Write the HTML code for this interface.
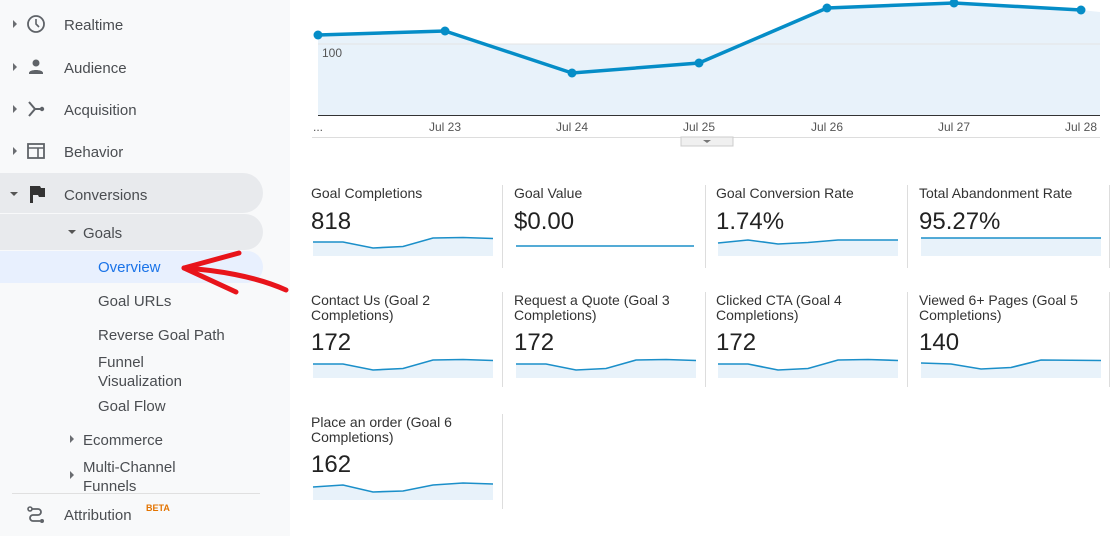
<!DOCTYPE html>
<html><head><meta charset="utf-8"><style>
body{margin:0;width:1116px;height:536px;overflow:hidden;background:#fff;font-family:"Liberation Sans",sans-serif;position:relative}
.a{position:absolute;white-space:nowrap}
#side{position:absolute;left:0;top:0;width:290px;height:536px;background:#f8f9fa}
.nav{font-size:15px;color:#4a4d51}
.car{position:absolute;width:0;height:0;border-top:4px solid transparent;border-bottom:4px solid transparent;border-left:4px solid #6a6d71}
.cdn{position:absolute;width:0;height:0;border-left:4px solid transparent;border-right:4px solid transparent;border-top:4px solid #555}
.t{font-size:14px;color:#333;line-height:15px}
.v{font-size:24px;color:#222}
.sep{position:absolute;width:1px;background:#ddd}
</style></head><body>
<div id="side"></div>
<div class="a" style="left:0;top:173px;width:263px;height:40px;background:#e8eaed;border-radius:0 20px 20px 0"></div>
<div class="a" style="left:0;top:214px;width:263px;height:36px;background:#e8eaed;border-radius:0 18px 18px 0"></div>
<div class="a" style="left:0;top:251px;width:263px;height:32px;background:#e8f0fe;border-radius:0 16px 16px 0"></div>

<div class="car" style="left:13px;top:20px"></div>
<svg class="a" style="left:26px;top:14px" width="20" height="20"><circle cx="10" cy="10" r="8" fill="none" stroke="#5f6368" stroke-width="1.8"/><path d="M10 5v5l3 3" fill="none" stroke="#5f6368" stroke-width="1.6"/></svg>
<div class="a nav" style="left:64px;top:17px">Realtime</div>
<div class="car" style="left:13px;top:63px"></div>
<svg class="a" style="left:26px;top:57px" width="20" height="20"><circle cx="10" cy="6" r="3.5" fill="#5f6368"/><path d="M3 16c0-4 14-4 14 0v1H3z" fill="#5f6368"/></svg>
<div class="a nav" style="left:64px;top:60px">Audience</div>
<div class="car" style="left:13px;top:105px"></div>
<svg class="a" style="left:26px;top:99px" width="20" height="20"><path d="M3 3l6 7-6 7M9 10h6" fill="none" stroke="#5f6368" stroke-width="2"/><circle cx="16" cy="10" r="2.2" fill="#5f6368"/></svg>
<div class="a nav" style="left:64px;top:102px">Acquisition</div>
<div class="car" style="left:13px;top:147px"></div>
<svg class="a" style="left:26px;top:141px" width="20" height="20"><rect x="2" y="3" width="16" height="14" fill="none" stroke="#5f6368" stroke-width="1.8"/><path d="M2 7h16M12 7v10" stroke="#5f6368" stroke-width="1.6"/></svg>
<div class="a nav" style="left:64px;top:144px">Behavior</div>
<div class="cdn" style="left:10px;top:192px"></div>
<svg class="a" style="left:28px;top:184px" width="18" height="20"><path d="M2 2h10l1 2h4v9h-6l-1-2H5v8H2z" fill="#333"/></svg>
<div class="a nav" style="left:64px;top:187px">Conversions</div>
<div class="cdn" style="left:68px;top:230px"></div>
<div class="a nav" style="left:83px;top:225px">Goals</div>
<div class="a nav" style="left:98px;top:259px;color:#1a73e8">Overview</div>
<div class="a nav" style="left:98px;top:293px">Goal URLs</div>
<div class="a nav" style="left:98px;top:327px">Reverse Goal Path</div>
<div class="a nav" style="left:98px;top:353px;line-height:19px">Funnel<br>Visualization</div>
<div class="a nav" style="left:98px;top:398px">Goal Flow</div>
<div class="car" style="left:70px;top:435px"></div>
<div class="a nav" style="left:83px;top:432px">Ecommerce</div>
<div class="car" style="left:70px;top:471px"></div>
<div class="a nav" style="left:83px;top:458px;line-height:19px">Multi-Channel<br>Funnels</div>
<div class="a" style="left:12px;top:493px;width:248px;height:1px;background:#e0e0e0"></div>
<svg class="a" style="left:26px;top:505px" width="20" height="20"><circle cx="4" cy="4" r="2" fill="none" stroke="#5f6368" stroke-width="1.6"/><circle cx="16" cy="16" r="2" fill="#5f6368"/><path d="M6 4h6a3 3 0 010 6H7a3 3 0 000 6h7" fill="none" stroke="#5f6368" stroke-width="1.8"/></svg>
<div class="a nav" style="left:64px;top:507px">Attribution</div>
<div class="a" style="left:146px;top:503px;font-size:9px;font-weight:bold;color:#e37400">BETA</div>

<svg class="a" style="left:0;top:0" width="1116" height="160">
<rect x="318" y="44" width="782" height="71" fill="#e8f2fa"/>
<path d="M318 35L445 31L572 73L699 63L827 8L954 3L1081 10L1100 12V44H318z" fill="#e8f2fa"/>
<line x1="318" y1="44" x2="1100" y2="44" stroke="#e4e4e4"/>
<line x1="318" y1="115.5" x2="1100" y2="115.5" stroke="#333" stroke-width="1"/>
<line x1="312" y1="137.5" x2="1100" y2="137.5" stroke="#ddd"/>
<path d="M318 35L445 31L572 73L699 63L827 8L954 3L1081 10" fill="none" stroke="#058dc7" stroke-width="3.5"/>
<g fill="#058dc7"><circle cx="318" cy="35" r="4.5"/><circle cx="445" cy="31" r="4.5"/><circle cx="572" cy="73" r="4.5"/><circle cx="699" cy="63" r="4.5"/><circle cx="827" cy="8" r="4.5"/><circle cx="954" cy="3" r="4.5"/><circle cx="1081" cy="10" r="4.5"/></g>
<g font-family="Liberation Sans" font-size="12" fill="#555" text-anchor="middle">
<text x="322" y="57" text-anchor="start">100</text>
<text x="318" y="131">...</text><text x="445" y="131">Jul 23</text><text x="572" y="131">Jul 24</text><text x="699" y="131">Jul 25</text><text x="827" y="131">Jul 26</text><text x="954" y="131">Jul 27</text><text x="1081" y="131">Jul 28</text></g>
<rect x="681" y="137" width="52" height="9" fill="#f0f0f0" stroke="#ccc"/>
<path d="M703 140h8l-4 3z" fill="#777"/>
</svg>

<div class="sep" style="left:502px;top:185px;height:83px"></div>
<div class="sep" style="left:705px;top:185px;height:83px"></div>
<div class="sep" style="left:907px;top:185px;height:83px"></div>
<div class="sep" style="left:1109px;top:185px;height:83px"></div>
<div class="sep" style="left:502px;top:292px;height:95px"></div>
<div class="sep" style="left:705px;top:292px;height:95px"></div>
<div class="sep" style="left:907px;top:292px;height:95px"></div>
<div class="sep" style="left:1109px;top:292px;height:95px"></div>
<div class="sep" style="left:502px;top:414px;height:95px"></div>

<div class="a t" style="left:311px;top:186px">Goal Completions</div><div class="a v" style="left:311px;top:208px">818</div>
<div class="a t" style="left:514px;top:186px">Goal Value</div><div class="a v" style="left:514px;top:208px">$0.00</div>
<div class="a t" style="left:716px;top:186px">Goal Conversion Rate</div><div class="a v" style="left:716px;top:208px">1.74%</div>
<div class="a t" style="left:919px;top:186px">Total Abandonment Rate</div><div class="a v" style="left:919px;top:208px">95.27%</div>
<div class="a t" style="left:311px;top:293px">Contact Us (Goal 2<br>Completions)</div><div class="a v" style="left:311px;top:329px">172</div>
<div class="a t" style="left:514px;top:293px">Request a Quote (Goal 3<br>Completions)</div><div class="a v" style="left:514px;top:329px">172</div>
<div class="a t" style="left:716px;top:293px">Clicked CTA (Goal 4<br>Completions)</div><div class="a v" style="left:716px;top:329px">172</div>
<div class="a t" style="left:919px;top:293px">Viewed 6+ Pages (Goal 5<br>Completions)</div><div class="a v" style="left:919px;top:329px">140</div>
<div class="a t" style="left:311px;top:415px">Place an order (Goal 6<br>Completions)</div><div class="a v" style="left:311px;top:451px">162</div>

<svg class="a" style="left:0;top:0" width="1116" height="536">
<defs>
<g id="sA"><path d="M0 6L30 6L60 12L90 10.5L120 2L150 1.5L180 2.5V20H0z" fill="#e8f2fa"/><path d="M0 6L30 6L60 12L90 10.5L120 2L150 1.5L180 2.5" fill="none" stroke="#1b8fc9" stroke-width="1.6"/></g>
</defs>
<use href="#sA" x="313" y="236"/>
<line x1="516" y1="246" x2="694" y2="246" stroke="#1b8fc9" stroke-width="1.6"/>
<g transform="translate(718,236)"><path d="M0 7L30 4L60 8L90 6.5L120 4L180 4V20H0z" fill="#e8f2fa"/><path d="M0 7L30 4L60 8L90 6.5L120 4L180 4" fill="none" stroke="#1b8fc9" stroke-width="1.6"/></g>
<g transform="translate(921,236)"><rect x="0" y="2" width="180" height="18" fill="#e8f2fa"/><line x1="0" y1="2" x2="180" y2="2" stroke="#1b8fc9" stroke-width="1.6"/></g>
<use href="#sA" x="313" y="358"/>
<use href="#sA" x="516" y="358"/>
<use href="#sA" x="718" y="358"/>
<g transform="translate(921,358)"><path d="M0 5L30 6L60 11L90 9.5L120 2L180 2.5V20H0z" fill="#e8f2fa"/><path d="M0 5L30 6L60 11L90 9.5L120 2L180 2.5" fill="none" stroke="#1b8fc9" stroke-width="1.6"/></g>
<g transform="translate(313,480)"><path d="M0 7L30 5L60 12L90 11L120 5L150 3L180 4V20H0z" fill="#e8f2fa"/><path d="M0 7L30 5L60 12L90 11L120 5L150 3L180 4" fill="none" stroke="#1b8fc9" stroke-width="1.6"/></g>
<g fill="none" stroke="#e8141b" stroke-width="5" stroke-linecap="round" stroke-linejoin="round">
<path d="M184 268C215 270 255 276 286 290"/>
<path d="M239 253L184 268L236 292"/>
</g>
</svg>
</body></html>
